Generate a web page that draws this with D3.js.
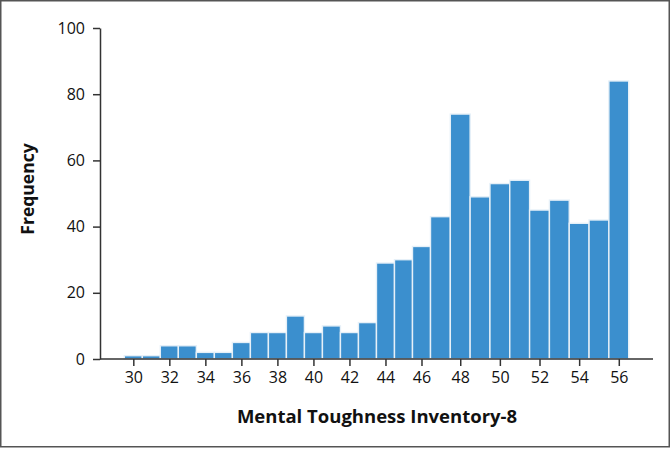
<!DOCTYPE html>
<html>
<head>
<meta charset="utf-8">
<script src="https://cdn.jsdelivr.net/npm/d3@7"></script>
<style>
  body { margin: 0; background: #fff; }
  text { font-family: "Open Sans", "Liberation Sans", sans-serif; fill: #111; }
</style>
</head>
<body>
<div id="chart"></div>
<script>
// data
var scores = [30, 31, 32, 33, 34, 35, 36, 37, 38, 39, 40, 41, 42, 43,
              44, 45, 46, 47, 48, 49, 50, 51, 52, 53, 54, 55, 56]
var counts = [1, 1, 4, 4, 2, 2, 5, 8, 8, 13, 8, 10, 8, 11,
              29, 30, 34, 43, 74, 49, 53, 54, 45, 48, 41, 42, 84]
var xTicks = [30, 32, 34, 36, 38, 40, 42, 44, 46, 48, 50, 52, 54, 56]
var yTicks = [0, 20, 40, 60, 80, 100]

var width = 670
    height = 449

var svg = d3.select("#chart")
  .append("svg")
    .attr("width", width)
    .attr("height", height)

// outer frame
svg.append("rect")
  .attr("x", 0.75).attr("y", 0.75)
  .attr("width", 668.5).attr("height", 446)
  .attr("fill", "none")
  .attr("stroke", "#555")
  .attr("stroke-width", 1.5)

// the original bins get a bit wider past 46, so the x scale is piecewise
var x = d3.scaleLinear()
  .domain([29.5, 46.5, 56.5])
  .range([124.3, 430.5, 628.7])

var y = d3.scaleLinear()
  .domain([0, 100])
  .range([359, 28])

// bars
svg.selectAll("rect.bar")
  .data(scores)
  .enter()
  .append("rect")
    .attr("class", "bar")
    .attr("x", function(d) { return x(d - 0.5) })
    .attr("width", function(d) { return x(d + 0.5) - x(d - 0.5) })
    .attr("y", function(d, i) { return y(counts[i]) })
    .attr("height", function(d, i) { return y(0) - y(counts[i]) })
    .attr("fill", "#3b8fce")
    .attr("stroke", "#e6f0f8")
    .attr("stroke-width", 1.4)

// y axis
var yAxis = svg.append("g")
  .attr("transform", "translate(100,0)")
  .call(d3.axisLeft(y).tickValues(yTicks).tickSize(7).tickPadding(8).tickSizeOuter(0))
yAxis.select(".domain").attr("stroke", "#333").attr("stroke-width", 1.5)
yAxis.selectAll(".tick line").attr("stroke", "#333").attr("stroke-width", 1.5)
yAxis.selectAll(".tick text")
  .style("font-family", "'Open Sans', sans-serif")
  .style("font-size", "16px")
  .attr("fill", "#111")

// x axis
var xAxis = svg.append("g")
  .attr("transform", "translate(0,359)")
  .call(d3.axisBottom(x).tickValues(xTicks).tickSize(7).tickPadding(6).tickSizeOuter(0))
xAxis.select(".domain").remove()
xAxis.selectAll(".tick line").attr("stroke", "#333").attr("stroke-width", 1.5)
xAxis.selectAll(".tick text")
  .style("font-family", "'Open Sans', sans-serif")
  .style("font-size", "16px")
  .attr("fill", "#111")

svg.append("line")
  .attr("x1", 100).attr("x2", 653)
  .attr("y1", 359).attr("y2", 359)
  .attr("stroke", "#333")
  .attr("stroke-width", 1.5)

// axis titles
svg.append("text")
  .attr("x", 377)
  .attr("y", 423)
  .attr("text-anchor", "middle")
  .style("font-size", "18.5px")
  .style("font-weight", "bold")
  .text("Mental Toughness Inventory-8")

svg.append("text")
  .attr("transform", "translate(34,189) rotate(-90)")
  .attr("text-anchor", "middle")
  .style("font-size", "17.5px")
  .style("font-weight", "bold")
  .text("Frequency")
</script>
</body>
</html>
